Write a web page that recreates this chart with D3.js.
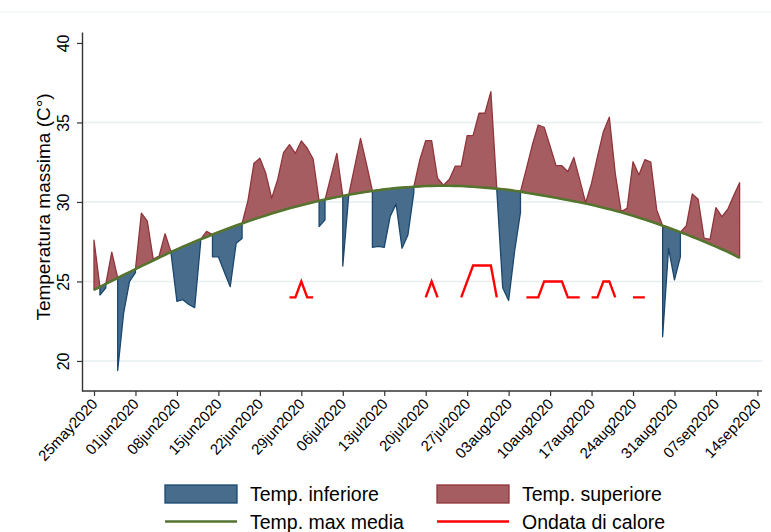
<!DOCTYPE html>
<html>
<head>
<meta charset="utf-8">
<script src="https://cdn.jsdelivr.net/npm/d3@7"></script>
<style>
  body { margin: 0; background: #fff; }
  svg { display: block; }
  text { font-family: "Liberation Sans", Arial, sans-serif; fill: #000; }
</style>
</head>
<body>
<svg id="chart" width="771" height="532"></svg>
<script>
"use strict";

// daily series, one value per day starting from startDate
const startDate = "25may2020";

// temperatura massima giornaliera (C)
const tmax = [
	27.6, 24.15, 24.6, 26.85, 19.4, 23.0, 25.0, 25.55, 29.3, 28.8,
	26.4, 26.6, 28.0, 26.8, 23.75, 23.85, 23.55, 23.35, 27.45, 28.15,
	26.55, 26.55, 25.6, 24.67, 27.4, 27.7, 30.1, 32.43, 32.75, 31.8,
	30.23, 31.4, 33.1, 33.6, 33.06, 33.84, 33.38, 32.7, 28.45, 28.87,
	31.6, 33.06, 25.97, 30.4, 32.2, 34.0, 32.4, 27.15, 27.2, 27.15,
	29.08, 29.87, 27.09, 27.92, 30.6, 32.64, 33.86, 33.86, 31.49, 31.05,
	31.43, 32.26, 32.26, 34.17, 34.17, 35.58, 35.58, 36.94, 30.75, 24.6,
	23.8, 26.87, 29.35, 32.1, 33.58, 34.84, 34.7, 33.5, 32.28, 32.28,
	31.9, 32.8, 31.4, 29.95, 31.18, 32.85, 34.42, 35.33, 31.8, 29.4,
	29.6, 32.53, 31.7, 32.66, 32.5, 29.5, 21.53, 27.09, 25.1, 26.56,
	28.5, 30.5, 30.17, 27.72, 27.65, 29.64, 29.08, 29.54, 30.4, 31.21
];

// temperatura massima media del periodo (C)
const tmaxMedia = [
	24.47, 24.66, 24.85, 25.04, 25.22, 25.41, 25.59, 25.78, 25.96, 26.14,
	26.32, 26.50, 26.68, 26.86, 27.02, 27.18, 27.34, 27.50, 27.65, 27.80,
	27.95, 28.10, 28.24, 28.38, 28.52, 28.65, 28.78, 28.91, 29.03, 29.15,
	29.27, 29.38, 29.49, 29.60, 29.70, 29.80, 29.89, 29.98, 30.07, 30.15,
	30.23, 30.31, 30.38, 30.45, 30.52, 30.58, 30.64, 30.69, 30.74, 30.79,
	30.83, 30.87, 30.90, 30.93, 30.96, 30.98, 31.00, 31.01, 31.02, 31.02,
	31.02, 31.01, 31.00, 30.98, 30.96, 30.93, 30.90, 30.87, 30.84, 30.80,
	30.76, 30.70, 30.65, 30.58, 30.52, 30.46, 30.40, 30.33, 30.26, 30.19,
	30.12, 30.05, 29.98, 29.90, 29.82, 29.73, 29.64, 29.55, 29.45, 29.35,
	29.24, 29.13, 29.01, 28.89, 28.77, 28.64, 28.51, 28.38, 28.24, 28.10,
	27.96, 27.81, 27.66, 27.51, 27.35, 27.19, 27.03, 26.87, 26.68, 26.48
];

// livello ondata di calore (null = nessuna ondata)
const ondata = [
	null, null, null, null, null, null, null, null, null, null,
	null, null, null, null, null, null, null, null, null, null,
	null, null, null, null, null, null, null, null, null, null,
	null, null, null, 24, 24, 25, 24, 24, null, null,
	null, null, null, null, null, null, null, null, null, null,
	null, null, null, null, null, null, 24, 25, 24, null,
	null, null, 24, 25, 26, 26, 26, 26, 24, null,
	null, null, null, 24, 24, 24, 25, 25, 25, 25,
	24, 24, 24, null, 24, 24, 25, 25, 24, null,
	null, 24, 24, 24, null, null, null, null, null, null,
	null, null, null, null, null, null, null, null, null, null
];

const tickLabels = [
	"25may2020", "01jun2020", "08jun2020", "15jun2020", "22jun2020", "29jun2020",
	"06jul2020", "13jul2020", "20jul2020", "27jul2020", "03aug2020", "10aug2020",
	"17aug2020", "24aug2020", "31aug2020", "07sep2020", "14sep2020"
];
const yTicks = [20, 25, 30, 35, 40];

const colBlueFill = "rgb(72,108,140)", colBlue = "#1a476f";
const colRedFill = "rgb(166,93,98)", colRed = "#90353b";
const colGreen = "#55752f", colWave = "#ff0000";

const parse = d3.utcParse("%d%b%Y");
const fmt = d3.utcFormat("%d%b%Y");
const t0 = parse(startDate);

const rows = tmax.map((t, i) => ({
	date: d3.utcDay.offset(t0, i),
	t: t,
	m: tmaxMedia[i],
	o: ondata[i]
}));

const svg = d3.select("#chart");

const x = d3.scaleUtc()
	.domain([parse(tickLabels[0]), parse(tickLabels[tickLabels.length - 1])])
	.range([94, 757.4]);
const y = d3.scaleLinear().domain([18.11, 40.69]).range([391, 32]);

// outer border line
svg.append("line")
	.attr("x1", 0).attr("x2", 771).attr("y1", 12).attr("y2", 12)
	.attr("stroke", "#eaf2f3").attr("stroke-width", 1);

// gridlines
svg.append("g").selectAll("line")
	.data(yTicks.filter(v => v < 40))
	.join("line")
	.attr("x1", 83).attr("x2", 762)
	.attr("y1", d => y(d)).attr("y2", d => y(d))
	.attr("stroke", "#e6eef0").attr("stroke-width", 1.4);

// area above the mean
const areaSup = d3.area()
	.x(d => x(d.date))
	.y0(d => y(d.m))
	.y1(d => y(Math.max(d.t, d.m)));
svg.append("path").datum(rows)
	.attr("d", areaSup)
	.attr("fill", colRedFill)
	.attr("stroke", colRed).attr("stroke-width", 1.3)
	.attr("stroke-linejoin", "round");

// area below the mean
const areaInf = d3.area()
	.defined(d => d.t < d.m)
	.x(d => x(d.date))
	.y0(d => y(d.m))
	.y1(d => y(d.t));
svg.append("path").datum(rows)
	.attr("d", areaInf)
	.attr("fill", colBlueFill)
	.attr("stroke", colBlue).attr("stroke-width", 1.3)
	.attr("stroke-linejoin", "round");

// mean line
svg.append("path").datum(rows)
	.attr("d", d3.line().x(d => x(d.date)).y(d => y(d.m)))
	.attr("fill", "none").attr("stroke", colGreen).attr("stroke-width", 2.6);

// heat waves
svg.append("path").datum(rows)
	.attr("d", d3.line().defined(d => d.o != null).x(d => x(d.date)).y(d => y(d.o)))
	.attr("fill", "none").attr("stroke", colWave).attr("stroke-width", 2.4);

// y axis
const gy = svg.append("g")
	.attr("transform", "translate(82,0)")
	.call(d3.axisLeft(y).tickValues(yTicks).tickSize(5).tickSizeOuter(0));
gy.select(".domain").attr("stroke", "#333").attr("stroke-width", 1.4);
gy.selectAll(".tick line").attr("stroke", "#333").attr("stroke-width", 1.2);
gy.selectAll(".tick text")
	.attr("transform", "rotate(-90)")
	.attr("x", 0).attr("y", -13).attr("dy", 0)
	.style("text-anchor", "middle")
	.style("font-size", "16px")
	.style("font-family", "Liberation Sans, Arial, sans-serif");

// x axis
const gx = svg.append("g")
	.attr("transform", "translate(0,391)")
	.call(d3.axisBottom(x)
		.tickValues(tickLabels.map(parse))
		.tickSize(5)
		.tickFormat(d => fmt(d).toLowerCase()));
gx.select(".domain").remove();
gx.selectAll(".tick line").attr("stroke", "#333").attr("stroke-width", 1.2);
gx.selectAll(".tick text")
	.attr("x", 0).attr("y", 0).attr("dy", "0.35em")
	.attr("transform", "translate(0,10) rotate(-47)")
	.style("text-anchor", "end")
	.style("font-size", "15px")
	.style("font-family", "Liberation Sans, Arial, sans-serif");
svg.append("line")
	.attr("x1", 82).attr("x2", 762).attr("y1", 391).attr("y2", 391)
	.attr("stroke", "#333").attr("stroke-width", 1.4);

// y title
svg.append("text")
	.attr("transform", "translate(50,207) rotate(-90)")
	.attr("text-anchor", "middle")
	.style("font-size", "19px")
	.text("Temperatura massima (C°)");

// legend
const legend = svg.append("g");
legend.append("rect")
	.attr("x", 165).attr("y", 485).attr("width", 72).attr("height", 18)
	.attr("fill", colBlueFill).attr("stroke", colBlue).attr("stroke-width", 1.3);
legend.append("rect")
	.attr("x", 437).attr("y", 485).attr("width", 72).attr("height", 18)
	.attr("fill", colRedFill).attr("stroke", colRed).attr("stroke-width", 1.3);
legend.append("line")
	.attr("x1", 165).attr("x2", 237).attr("y1", 521.5).attr("y2", 521.5)
	.attr("stroke", colGreen).attr("stroke-width", 2.6);
legend.append("line")
	.attr("x1", 437).attr("x2", 509).attr("y1", 521.5).attr("y2", 521.5)
	.attr("stroke", colWave).attr("stroke-width", 2.4);

const legendText = [
	{ label: "Temp. inferiore", x: 250, y: 494 },
	{ label: "Temp. superiore", x: 522, y: 494 },
	{ label: "Temp. max media", x: 250, y: 521.5 },
	{ label: "Ondata di calore", x: 522, y: 521.5 }
];
legend.selectAll("text.leg")
	.data(legendText)
	.join("text")
	.attr("class", "leg")
	.attr("x", d => d.x).attr("y", d => d.y).attr("dy", "0.36em")
	.style("font-size", "19.5px")
	.text(d => d.label);
</script>
</body>
</html>
